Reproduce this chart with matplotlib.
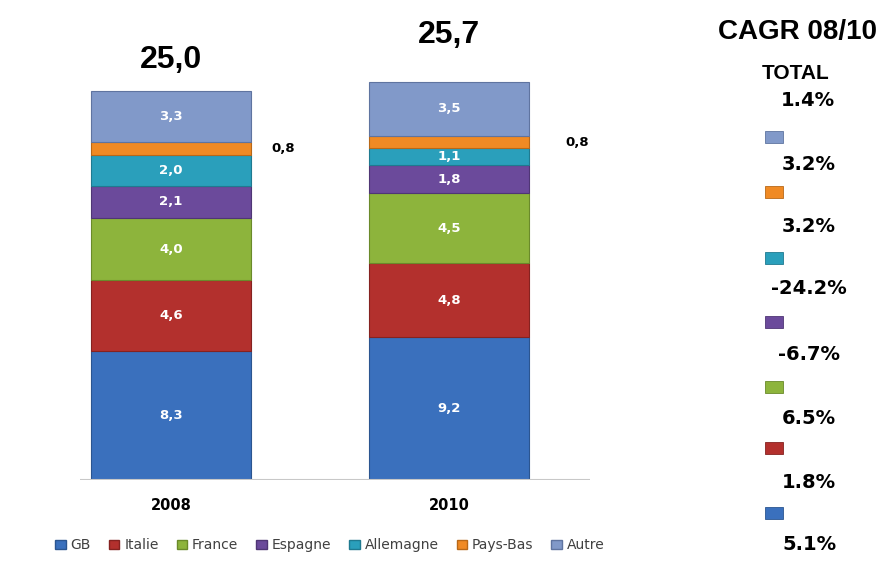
import matplotlib
matplotlib.use("Agg")
import matplotlib.pyplot as plt
from matplotlib.patches import Patch
import numpy as np

years = ["2008", "2010"]
countries = ["GB", "Italie", "France", "Espagne", "Allemagne", "Pays-Bas", "Autre"]
values2008 = [8.3, 4.6, 4.0, 2.1, 2.0, 0.8, 3.3]
values2010 = [9.2, 4.8, 4.5, 1.8, 1.1, 0.8, 3.5]
totals = [25.0, 25.7]
totalLabels = ["25,0", "25,7"]
cagrTotal = "1.4%"
# CAGR listed top to bottom: Autre, Pays-Bas, Allemagne, Espagne, France, Italie, GB
cagrValues = ["3.2%", "3.2%", "-24.2%", "-6.7%", "6.5%", "1.8%", "5.1%"]

colors = ["#3a70bd", "#b3302d", "#8db43c", "#6b4a9b", "#2a9fbb", "#f08a24", "#8199c9"]
edgeColors = ["#2b5590", "#852220", "#6a8a2a", "#4f3675", "#1f7a90", "#b86818", "#5f74a0"]

fig = plt.figure(figsize=(8.82, 5.65), dpi=100)
ax = fig.add_axes([0.0907, 0.1504, 0.578, 0.779])

x = np.arange(len(years))
width = 0.576
data = np.array([values2008, values2010])
bottoms = np.zeros(len(years))

for i, name in enumerate(countries):
    vals = data[:, i]
    ax.bar(x, vals, width, bottom=bottoms, color=colors[i], edgecolor=edgeColors[i],
           linewidth=0.8, label=name)
    for j in range(len(years)):
        mid = bottoms[j] + vals[j] / 2
        txt = f"{vals[j]:.1f}".replace(".", ",")
        if name == "Pays-Bas":
            off = [15, 26][j]
            ax.annotate(txt, (x[j] + width / 2, mid), xytext=(off, 0), textcoords="offset points",
                        ha="left", va="center", fontsize=9.5, fontweight="bold", color="black",
                        family="DejaVu Sans")
        else:
            ax.text(x[j], mid, txt, ha="center", va="center", fontsize=9.5,
                    fontweight="bold", color="white", family="DejaVu Sans")
    bottoms += vals

for j in range(len(years)):
    ax.annotate(totalLabels[j], (x[j], totals[j]), xytext=(0, [13, 23][j]), textcoords="offset points",
                ha="center", va="bottom", fontsize=23, fontweight="bold", family="Liberation Sans")

ax.set_xlim(-0.327, 1.507)
ax.set_ylim(0, 28.4)
ax.axhline(0, color="#c8c8c8", linewidth=1.5)
for s in ax.spines.values():
    s.set_visible(False)
ax.set_yticks([])
ax.set_xticks(x)
ax.set_xticklabels(years, fontsize=10.5, fontweight="bold", family="DejaVu Sans")
ax.tick_params(axis="x", length=0, pad=13)

handles = [Patch(facecolor=colors[i], edgecolor=edgeColors[i], label=countries[i]) for i in range(len(countries))]
fig.legend(handles=handles, loc="center", bbox_to_anchor=(0.374, 0.035), ncol=7, frameon=False,
           fontsize=10, handlelength=0.75, handleheight=0.7, handletextpad=0.35, columnspacing=1.3,
           labelcolor="#404040")

# CAGR column on the right
fig.text(797 / 882, 1 - 32 / 565, "CAGR 08/10", ha="center", va="center", fontsize=20,
         fontweight="bold", family="Liberation Sans")
fig.text(796 / 882, 1 - 73 / 565, "TOTAL", ha="center", va="center", fontsize=15,
         fontweight="bold", family="Liberation Sans")
fig.text(808 / 882, 1 - 100 / 565, cagrTotal, ha="center", va="center", fontsize=14,
         fontweight="bold", family="DejaVu Sans")

squareY = [137, 192, 258, 322, 387, 448, 513]
textY = [164, 227, 288, 354, 418, 482, 545]
order = [6, 5, 4, 3, 2, 1, 0]
for k, idx in enumerate(order):
    fig.patches.append(plt.Rectangle((765 / 882, 1 - (squareY[k] + 6) / 565), 18 / 882, 12 / 565,
                                     transform=fig.transFigure, facecolor=colors[idx],
                                     edgecolor=edgeColors[idx], linewidth=0.6))
    fig.text(809 / 882, 1 - textY[k] / 565, cagrValues[k], ha="center", va="center", fontsize=14,
             fontweight="bold", family="DejaVu Sans")

fig.savefig("out.png", dpi=100)
